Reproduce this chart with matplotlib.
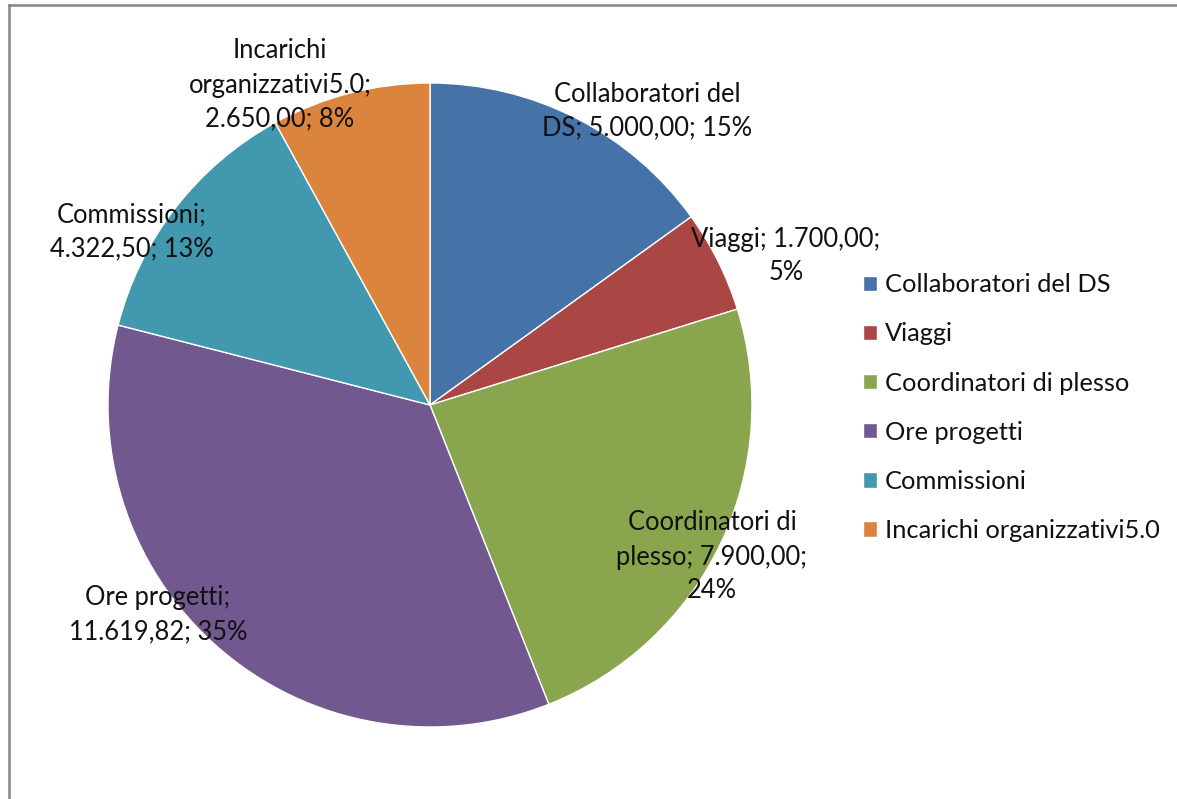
import matplotlib.pyplot as plt
from matplotlib.lines import Line2D

# data
categories = ['Collaboratori del DS', 'Viaggi', 'Coordinatori di plesso',
              'Ore progetti', 'Commissioni', 'Incarichi organizzativi5.0']
values = [5000.00, 1700.00, 7900.00, 11619.82, 4322.50, 2650.00]
label_texts = ['Collaboratori del\nDS; 5.000,00; 15%',
               'Viaggi; 1.700,00;\n5%',
               'Coordinatori di\nplesso; 7.900,00;\n24%',
               'Ore progetti;\n11.619,82; 35%',
               'Commissioni;\n4.322,50; 13%',
               'Incarichi\norganizzativi5.0;\n2.650,00; 8%']
colors = ['#4572A7', '#AA4643', '#89A54E', '#71588F', '#4198AF', '#DB843D']

W, H = 1177, 799
plt.rcParams['font.family'] = ['Lato', 'DejaVu Sans']

fig = plt.figure(figsize=(W / 100, H / 100), dpi=100)
ax = fig.add_axes([0, 0, 1, 1])

cx, cy, r = 430, H - 405, 322
wedges, _ = ax.pie(values, colors=colors, startangle=90, counterclock=False,
                   center=(cx, cy), radius=r, frame=True,
                   wedgeprops=dict(edgecolor='white', linewidth=1))
ax.set_xlim(0, W)
ax.set_ylim(0, H)
ax.set_aspect('equal')
ax.axis('off')

# label centres (pixel positions from the top-left)
label_pos = [(647, 111), (786, 256), (712, 557), (158, 615), (132, 232), (280, 85)]
for txt, (px, py) in zip(label_texts, label_pos):
    ax.text(px, H - py, txt, ha='center', va='center', fontsize=18.4,
            color='#111111', linespacing=1.45)

leg = ax.legend(wedges, categories, loc='upper left', frameon=False,
                bbox_to_anchor=(853 / W, 1 - 263 / H), fontsize=18.3,
                handlelength=0.55, handleheight=0.55, handletextpad=0.3,
                labelspacing=1.03, borderaxespad=0)
for t in leg.get_texts():
    t.set_color('#111111')

# chart border (top and left edges visible)
fig.add_artist(Line2D([9 / W, 1], [1 - 5 / H, 1 - 5 / H], color='#868686', linewidth=1.8))
fig.add_artist(Line2D([9 / W, 9 / W], [0, 1 - 5 / H], color='#868686', linewidth=1.8))

fig.savefig('out.png', dpi=100, facecolor='white')
